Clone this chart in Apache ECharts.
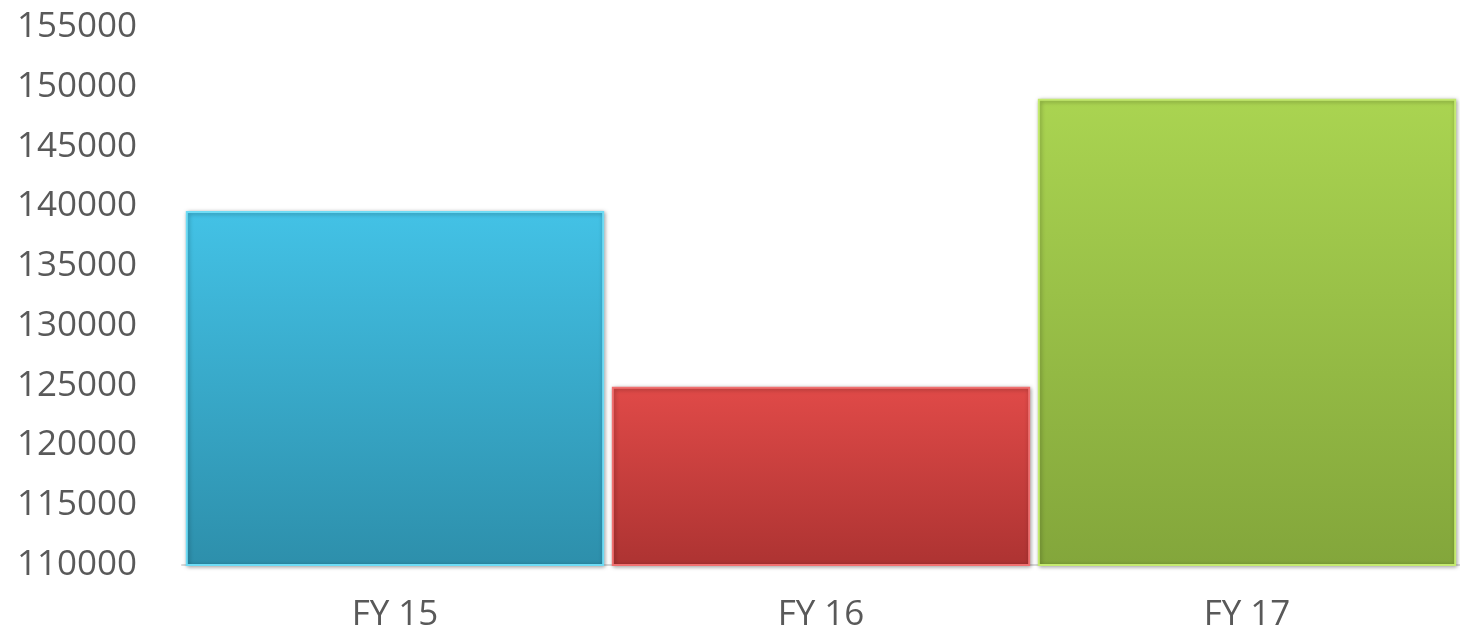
<!DOCTYPE html>
<html><head><meta charset="utf-8">
<script src="https://cdn.jsdelivr.net/npm/echarts@6/dist/echarts.min.js"></script>
<style>html,body{margin:0;padding:0;background:#fff}#c{width:1460px;height:635px}</style>
</head><body><div id="c"></div>
<script>
const categories = ['FY 15', 'FY 16', 'FY 17'];
const values = [139600, 124900, 149000];
const topColors = ['#43c2e6', '#e04a48', '#aad451'];
const bottomColors = ['#2d8fab', '#ad3332', '#83a63b'];
const edgeColors = ['#6fdcf5', '#f07070', '#c4ea70'];

const chart = echarts.init(document.getElementById('c'));
chart.setOption({
  animation: false,
  grid: { left: 182, right: -4, top: 27, bottom: 70 },
  xAxis: {
    type: 'category', data: categories,
    axisLine: { lineStyle: { color: '#d9d9d9', width: 2 } },
    axisTick: { show: false },
    axisLabel: { color: '#595959', fontSize: 35, fontFamily: 'Open Sans', margin: 33 }
  },
  yAxis: {
    type: 'value', min: 110000, max: 155000, interval: 5000,
    splitLine: { show: false },
    axisLine: { show: false }, axisTick: { show: false },
    axisLabel: { color: '#595959', fontSize: 35, fontFamily: 'Open Sans', margin: 45,
      formatter: v => String(v) }
  },
  series: [{
    type: 'bar', barCategoryGap: '1.8%',
    data: values.map((v, i) => ({
      value: v,
      itemStyle: {
        color: new echarts.graphic.LinearGradient(0, 0, 0, 1, [
          { offset: 0, color: topColors[i] },
          { offset: 1, color: bottomColors[i] }
        ]),
        borderColor: edgeColors[i], borderWidth: 2,
        shadowColor: 'rgba(0,0,0,0.35)', shadowBlur: 4, shadowOffsetX: 1, shadowOffsetY: 1
      }
    }))
  }]
});
</script></body></html>
